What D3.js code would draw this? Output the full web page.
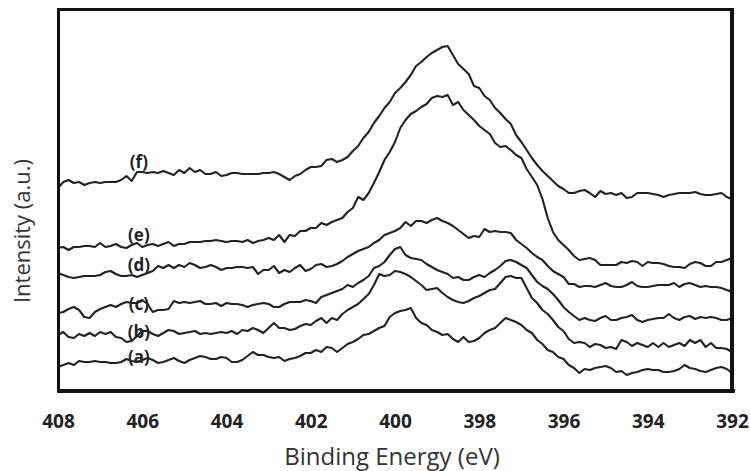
<!DOCTYPE html>
<html>
<head>
<meta charset="utf-8">
<script src="https://cdn.jsdelivr.net/npm/d3@7"></script>
<style>
  html, body { margin: 0; padding: 0; background: #fff; overflow: hidden; }
  svg { display: block; }
</style>
</head>
<body>
<script>
// binding energy grid (eV), shared by all spectra
var energy = [
  408, 407.875, 407.75, 407.625, 407.5, 407.375, 407.25, 407.125,
  407, 406.875, 406.75, 406.625, 406.5, 406.375, 406.25, 406.125,
  406, 405.875, 405.75, 405.625, 405.5, 405.375, 405.25, 405.125,
  405, 404.875, 404.75, 404.625, 404.5, 404.375, 404.25, 404.125,
  404, 403.875, 403.75, 403.625, 403.5, 403.375, 403.25, 403.125,
  403, 402.875, 402.75, 402.625, 402.5, 402.375, 402.25, 402.125,
  402, 401.875, 401.75, 401.625, 401.5, 401.375, 401.25, 401.125,
  401, 400.875, 400.75, 400.625, 400.5, 400.375, 400.25, 400.125,
  400, 399.875, 399.75, 399.625, 399.5, 399.375, 399.25, 399.125,
  399, 398.875, 398.75, 398.625, 398.5, 398.375, 398.25, 398.125,
  398, 397.875, 397.75, 397.625, 397.5, 397.375, 397.25, 397.125,
  397, 396.875, 396.75, 396.625, 396.5, 396.375, 396.25, 396.125,
  396, 395.875, 395.75, 395.625, 395.5, 395.375, 395.25, 395.125,
  395, 394.875, 394.75, 394.625, 394.5, 394.375, 394.25, 394.125,
  394, 393.875, 393.75, 393.625, 393.5, 393.375, 393.25, 393.125,
  393, 392.875, 392.75, 392.625, 392.5, 392.375, 392.25, 392.125,
  392];

// stacked N 1s intensities (a.u.)
var specA = [
  24, 26, 28, 26, 30, 29, 29, 30, 29, 29, 28, 28, 29, 32, 30, 29,
  31, 33, 31, 28, 29, 31, 33, 30, 28, 31, 33, 35, 34, 32, 32, 34,
  33, 29, 29, 31, 35, 39, 36, 36, 34, 33, 34, 30, 32, 33, 35, 38,
  38, 41, 39, 44, 43, 39, 43, 47, 49, 52, 56, 57, 60, 63, 65, 74,
  78, 80, 81, 83, 73, 68, 66, 61, 59, 56, 57, 52, 49, 54, 49, 50,
  53, 58, 61, 63, 68, 73, 71, 69, 66, 61, 58, 51, 47, 41, 39, 34,
  32, 26, 23, 18, 22, 21, 23, 24, 25, 23, 19, 20, 16, 18, 19, 21,
  22, 21, 21, 19, 19, 20, 22, 26, 23, 22, 20, 19, 21, 23, 24, 22,
  18];
var specB = [
  56, 59, 54, 53, 57, 55, 58, 55, 59, 57, 59, 54, 53, 49, 50, 55,
  60, 60, 57, 55, 58, 61, 60, 57, 58, 59, 60, 57, 58, 57, 58, 59,
  58, 60, 57, 61, 60, 63, 61, 58, 63, 68, 63, 63, 61, 62, 65, 67,
  66, 70, 73, 68, 73, 71, 77, 81, 84, 87, 92, 97, 106, 117, 115, 116,
  120, 119, 117, 114, 110, 106, 101, 102, 103, 98, 94, 91, 89, 88, 90, 93,
  95, 98, 101, 102, 108, 114, 115, 113, 113, 103, 93, 88, 81, 77, 71, 64,
  60, 52, 48, 49, 48, 44, 47, 46, 43, 44, 42, 51, 49, 45, 48, 46,
  44, 48, 44, 48, 44, 46, 48, 45, 51, 48, 51, 44, 48, 43, 43, 42,
  39];
var specC = [
  78, 79, 82, 84, 81, 74, 73, 79, 82, 84, 86, 84, 87, 89, 88, 88,
  91, 87, 79, 81, 81, 82, 90, 88, 89, 88, 89, 90, 87, 87, 88, 85,
  88, 87, 87, 86, 84, 86, 87, 88, 87, 84, 84, 87, 89, 89, 89, 91,
  90, 88, 94, 96, 98, 100, 102, 106, 104, 108, 111, 115, 123, 125, 129, 136,
  142, 144, 136, 133, 132, 131, 127, 124, 121, 119, 117, 113, 114, 111, 111, 114,
  116, 114, 118, 121, 125, 130, 131, 129, 126, 123, 116, 109, 105, 102, 97, 91,
  84, 79, 75, 71, 73, 71, 70, 73, 75, 71, 71, 73, 74, 76, 71, 69,
  71, 72, 73, 73, 77, 73, 71, 74, 75, 72, 74, 73, 74, 73, 71, 71,
  73];
var specD = [
  118, 116, 114, 113, 114, 115, 115, 115, 116, 119, 120, 117, 115, 115, 116, 114,
  116, 118, 120, 125, 123, 126, 123, 126, 124, 128, 126, 123, 124, 126, 124, 121,
  123, 123, 124, 124, 123, 124, 117, 121, 121, 125, 118, 121, 119, 123, 126, 120,
  122, 126, 127, 124, 125, 127, 130, 134, 137, 140, 142, 144, 148, 151, 156, 158,
  160, 163, 169, 165, 170, 170, 168, 171, 173, 170, 168, 165, 161, 157, 153, 155,
  154, 162, 159, 160, 159, 159, 158, 151, 147, 143, 138, 134, 131, 125, 120, 117,
  114, 107, 107, 104, 105, 105, 104, 106, 108, 105, 104, 104, 106, 109, 105, 104,
  104, 105, 106, 106, 106, 108, 104, 107, 108, 106, 104, 105, 104, 104, 103, 101,
  99];
var specE = [
  143, 144, 141, 144, 144, 145, 145, 144, 148, 144, 145, 147, 144, 143, 146, 148,
  144, 146, 147, 145, 147, 149, 145, 147, 147, 149, 149, 149, 150, 150, 151, 150,
  149, 150, 150, 149, 151, 148, 150, 151, 153, 151, 156, 149, 156, 155, 160, 160,
  163, 163, 168, 166, 169, 171, 173, 179, 183, 194, 191, 198, 208, 219, 231, 239,
  249, 263, 271, 277, 280, 284, 287, 293, 295, 294, 296, 286, 289, 281, 276, 271,
  265, 261, 257, 248, 244, 245, 241, 236, 233, 222, 214, 206, 192, 173, 159, 151,
  146, 141, 135, 131, 132, 133, 131, 126, 126, 126, 126, 129, 128, 130, 129, 125,
  129, 128, 128, 127, 125, 124, 124, 123, 127, 129, 128, 125, 125, 129, 129, 131,
  133];
var specF = [
  203, 209, 211, 208, 209, 206, 208, 209, 208, 209, 209, 209, 211, 215, 210, 219,
  219, 218, 219, 218, 220, 218, 216, 221, 218, 223, 219, 221, 217, 217, 219, 215,
  216, 218, 218, 217, 217, 217, 217, 218, 218, 219, 217, 214, 211, 215, 217, 221,
  224, 224, 225, 231, 232, 229, 231, 234, 240, 245, 253, 259, 268, 275, 283, 289,
  298, 303, 309, 316, 325, 329, 334, 338, 341, 344, 345, 336, 327, 322, 317, 305,
  303, 295, 291, 283, 278, 272, 267, 256, 249, 241, 233, 226, 220, 215, 210, 205,
  202, 198, 198, 200, 201, 198, 194, 200, 197, 198, 196, 198, 193, 194, 198, 198,
  198, 197, 196, 194, 196, 197, 198, 198, 198, 199, 197, 196, 196, 197, 198, 194,
  192];

var seriesList = [specA, specB, specC, specD, specE, specF];
var seriesNames = ["(a)", "(b)", "(c)", "(d)", "(e)", "(f)"];
// curve labels anchored in data space (energy, intensity)
var labelEnergy = 406.08;
var labelLevel = [34, 59, 87, 126, 156, 229];

var xTicks = [408, 406, 404, 402, 400, 398, 396, 394, 392];

var W = 750, H = 471;
var margin = { top: 9, right: 18, bottom: 80, left: 58 };
var plotW = W - margin.left - margin.right,
    plotH = H - margin.top - margin.bottom;

var svg = d3.select("body").append("svg")
    .attr("width", W)
    .attr("height", H);

var g = svg.append("g")
    .attr("transform", "translate(" + margin.left + "," + margin.top + ")");

var x = d3.scaleLinear().domain([408, 392]).range([0, plotW]);
var y = d3.scaleLinear().domain([0, 382]).range([plotH, 0]);

var line = d3.line()
  .x(function(d, i) { return x(energy[i]); })
  .y(function(d) { return y(d); });

seriesList.forEach(function(s) {
  g.append("path")
    .datum(s)
    .attr("fill", "none")
    .attr("stroke", "#222")
    .attr("stroke-width", 2.1)
    .attr("stroke-linejoin", "round")
    .attr("d", line);
});

seriesNames.forEach(function(name, i) {
  g.append("text")
    .attr("x", x(labelEnergy))
    .attr("y", y(labelLevel[i]))
    .attr("dy", "0.35em")
    .attr("text-anchor", "middle")
    .attr("font-family", "'Open Sans', sans-serif")
    .attr("font-weight", "bold")
    .attr("font-size", 17)
    .attr("fill", "#222")
    .text(name);
});

var xAxis = g.append("g")
  .attr("transform", "translate(0," + plotH + ")")
  .call(d3.axisBottom(x).tickValues(xTicks).tickSize(0).tickPadding(24).tickFormat(d3.format("d")));
xAxis.select(".domain").remove();
xAxis.selectAll("text")
  .attr("font-family", "'Open Sans', sans-serif")
  .attr("font-weight", "bold")
  .attr("font-size", 19)
  .attr("fill", "#222");

// plot frame, drawn on top as solid bars
g.append("rect").attr("x", -1).attr("y", -1).attr("width", plotW + 3).attr("height", 3).attr("fill", "#111");
g.append("rect").attr("x", -1).attr("y", -1).attr("width", 3).attr("height", plotH + 3).attr("fill", "#111");
g.append("rect").attr("x", -1).attr("y", plotH - 2).attr("width", plotW + 4).attr("height", 4).attr("fill", "#111");
g.append("rect").attr("x", plotW - 2).attr("y", -1).attr("width", 4).attr("height", plotH + 3).attr("fill", "#111");

svg.append("text")
  .attr("x", 392)
  .attr("y", 465)
  .attr("text-anchor", "middle")
  .attr("font-family", "'Open Sans', sans-serif")
  .attr("font-size", 24)
  .attr("fill", "#333")
  .text("Binding Energy (eV)");

svg.append("text")
  .attr("transform", "translate(30,231) rotate(-90)")
  .attr("text-anchor", "middle")
  .attr("font-family", "'Open Sans', sans-serif")
  .attr("font-size", 22)
  .attr("fill", "#333")
  .text("Intensity (a.u.)");
</script>
</body>
</html>
